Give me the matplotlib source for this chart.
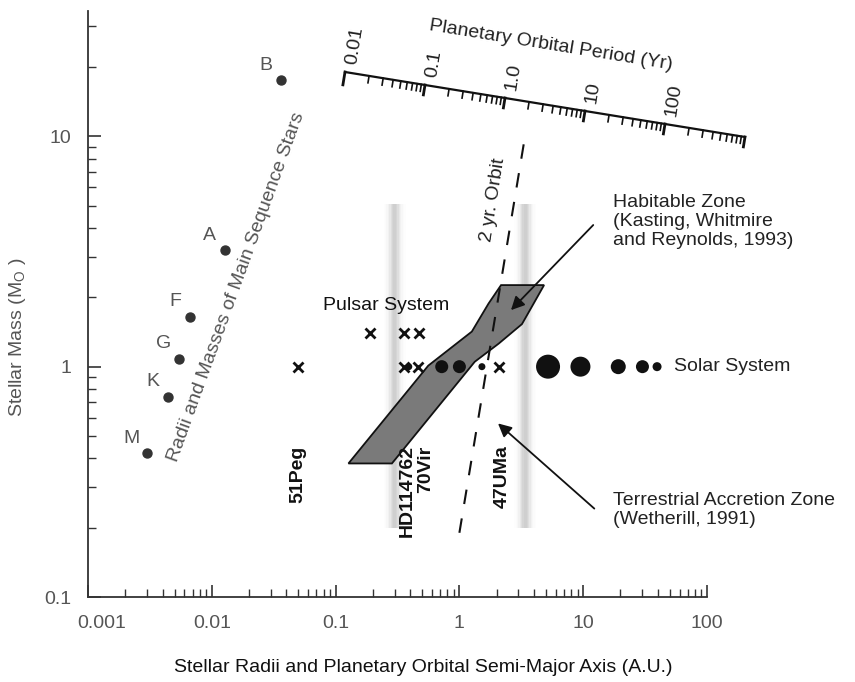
import numpy as np
import matplotlib.pyplot as plt
from matplotlib.lines import Line2D
from matplotlib.patches import Polygon
from matplotlib.transforms import Affine2D, ScaledTranslation
from matplotlib.ticker import NullFormatter

plt.rcParams['font.family'] = ['Liberation Sans', 'DejaVu Sans']

# --- data ---
# main sequence stars: radius (AU) vs mass (solar masses)
star_types = ['B', 'A', 'F', 'G', 'K', 'M']
star_radius_au = [0.036, 0.0128, 0.0067, 0.0054, 0.0044, 0.0030]
star_mass = [17.5, 3.2, 1.65, 1.08, 0.74, 0.42]

# solar system planets, all at 1 solar mass
planet_names = ['Mercury', 'Venus', 'Earth', 'Mars', 'Jupiter', 'Saturn',
                'Uranus', 'Neptune', 'Pluto']
planet_au = [0.39, 0.72, 1.0, 1.52, 5.2, 9.5, 19.2, 30.1, 39.5]
planet_mass = [1, 1, 1, 1, 1, 1, 1, 1, 1]

# extrasolar planets
exo_names = ['51Peg', 'HD114762', '70Vir', '47UMa']
exo_au = [0.05, 0.36, 0.46, 2.1]
exo_mass = [1.0, 1.0, 1.0, 1.0]

# pulsar system
pulsar_au = [0.19, 0.36, 0.47]
pulsar_mass = [1.4, 1.4, 1.4]

# habitable zone outline (AU, solar masses)
hz_au = [0.127, 0.285, 1.33, 2.08, 3.2, 3.98, 4.83, 2.17, 1.72, 1.26, 0.56]
hz_mass = [0.38, 0.38, 1.05, 1.26, 1.53, 1.88, 2.26, 2.26, 1.88, 1.42, 1.01]

# 2 yr orbit line end points
orbit2_au = [1.0, 3.45]
orbit2_mass = [0.19, 10.6]

# terrestrial accretion zone edges
band_au = [0.3, 3.4]
band_mass = [0.2, 5.1]

# planetary orbital period scale (yr)
period_major = [0.01, 0.1, 1, 10, 100]
period_labels = ['0.01', '0.1', '1.0', '10', '100']
period_end = 1000

# --- figure ---
W, H = 855, 682
fig = plt.figure(figsize=(W / 100, H / 100), dpi=100)
ax = fig.add_axes([88 / W, (H - 597) / H, (707 - 88) / W, (597 - 11) / H])
ax.set_xscale('log')
ax.set_yscale('log')
ax.set_xlim(0.001, 100)
ax.set_ylim(0.1, 35)

for s in ['top', 'right']:
    ax.spines[s].set_visible(False)
for s in ['left', 'bottom']:
    ax.spines[s].set_color('#333333')
    ax.spines[s].set_linewidth(1.3)

ax.set_xticks([0.001, 0.01, 0.1, 1, 10, 100], ['0.001', '0.01', '0.1', '1', '10', '100'])
ax.set_yticks([0.1, 1, 10], ['0.1', '1', '10'])
ax.xaxis.set_minor_formatter(NullFormatter())
ax.yaxis.set_minor_formatter(NullFormatter())
ax.tick_params(which='both', direction='in', color='#333333', labelsize=14,
               labelcolor='#555555')
ax.tick_params(axis='x', pad=13)
ax.tick_params(axis='y', pad=12)
ax.tick_params(which='major', length=9, width=1.2)
ax.tick_params(which='minor', length=6, width=1.0)
# the first x label sits a little to the right of its tick
lab0 = ax.get_xticklabels()[0]
lab0.set_transform(lab0.get_transform() + ScaledTranslation(0.14, 0, fig.dpi_scale_trans))

# accretion zone bands (blurred grey)
for c in band_au:
    for k in range(-8, 8):
        a = 0.42 * np.exp(-((k + 0.5) / 4.0) ** 2)
        ax.fill_betweenx(band_mass, c * 10 ** (k * 0.011), c * 10 ** ((k + 1) * 0.011),
                         color='#8c8c8c', alpha=a, lw=0, zorder=1)

# habitable zone
ax.add_patch(Polygon(np.column_stack([hz_au, hz_mass]), closed=True,
                     facecolor='#7a7a7a', edgecolor='#111111', lw=1.3, zorder=3))

# 2 yr orbit
ax.plot(orbit2_au, orbit2_mass, color='#111111', lw=1.5, dashes=(7, 7), zorder=5)
ax.text(1.87, 5.3, '2 yr. Orbit', rotation=81, ha='center', va='center',
        fontsize=14, color='#222222')

# main sequence stars
ax.scatter(star_radius_au, star_mass, s=42, color='#333333', zorder=4)
for t, r, m in zip(star_types, star_radius_au, star_mass):
    ax.annotate(t, (r, m), xytext=(-11, 11), textcoords='offset points',
                ha='center', va='center', fontsize=14, color='#555555')
ax.text(0.0158, 2.21, 'Radii and Masses of Main Sequence Stars', rotation=70,
        ha='center', va='center', fontsize=14, color='#555555')

# solar system
planet_dot_px = [7, 13, 13, 7, 24, 20, 15, 13, 9]
ax.scatter(planet_au, planet_mass, s=[(d * 0.72) ** 2 for d in planet_dot_px],
           color='#111111', zorder=4, lw=0)
ax.text(54.6, 1.0, 'Solar System', ha='left', va='center', fontsize=14, color='#222222')

# exoplanets and pulsar planets
ax.plot(exo_au, exo_mass, 'x', ms=7, mew=2, color='#111111', zorder=4)
ax.plot(pulsar_au, pulsar_mass, 'x', ms=7, mew=2, color='#111111', zorder=4)
ax.text(0.254, 1.84, 'Pulsar System', ha='center', va='center', fontsize=14, color='#111111')
label_dx = [0, 2, 6, 2]
for name, a, dx in zip(exo_names, exo_au, label_dx):
    ax.annotate(name, (a, 0.455), xytext=(dx, 0), textcoords='offset points',
                rotation=90, ha='center', va='top', fontsize=14, fontweight='bold',
                color='#111111')

# annotations with arrows
arrow = dict(arrowstyle='-|>', color='#111111', lw=1.3, mutation_scale=20,
             shrinkA=0, shrinkB=0)
ax.text(17.5, 4.27, 'Habitable Zone\n(Kasting, Whitmire\nand Reynolds, 1993)',
        ha='left', va='center', fontsize=14, color='#222222', linespacing=1.15)
ax.annotate('', xy=(2.61, 1.76), xytext=(12.05, 4.12), arrowprops=arrow)
ax.text(17.5, 0.239, 'Terrestrial Accretion Zone\n(Wetherill, 1991)',
        ha='left', va='center', fontsize=14, color='#222222', linespacing=1.15)
ax.annotate('', xy=(2.05, 0.567), xytext=(12.3, 0.242), arrowprops=arrow)

# --- tilted planetary orbital period scale (drawn in image pixels) ---
px = Affine2D().scale(0.01, -0.01).translate(0, H / 100) + fig.dpi_scale_trans
S = np.array([345.0, 72.0])
E = np.array([745.0, 137.0])
u = (E - S) / np.hypot(*(E - S))
n = np.array([-u[1], u[0]])  # points down in image
ang = np.degrees(np.arctan2(-(E - S)[1], (E - S)[0]))


def ppos(p):
    return S + (E - S) * (np.log10(p) + 2) / (np.log10(period_end) + 2)


fig.add_artist(Line2D([S[0], E[0]], [S[1], E[1]], color='#111111', lw=1.6, transform=px))
ticks = [m * 10.0 ** d for d in range(-2, 3) for m in range(1, 10)] + [period_end]
for p in ticks:
    q = ppos(p)
    major = np.isclose(np.log10(p), round(np.log10(p)))
    L = 13 if p == 0.01 else (10 if major else 7)
    r = q + n * L
    fig.add_artist(Line2D([q[0], r[0]], [q[1], r[1]], color='#111111',
                          lw=2.0 if major else 1.2, transform=px))
for p, lab in zip(period_major, period_labels):
    q = ppos(p) - n * 9 + u * 5
    fig.text(q[0], q[1], lab, transform=px, rotation=90 + ang, rotation_mode='anchor',
             ha='left', va='center', fontsize=14, color='#222222')
fig.text(551, 45, 'Planetary Orbital Period (Yr)', transform=px, rotation=ang,
         ha='center', va='center', fontsize=14, color='#222222')

# axis titles
fig.text(423 / W, 1 - 668 / H, 'Stellar Radii and Planetary Orbital Semi-Major Axis (A.U.)',
         ha='center', va='center', fontsize=14, color='#111111')
fig.text(17 / W, 1 - 337 / H, r'Stellar Mass (M$_\mathregular{O}$ )', rotation=90,
         ha='center', va='center', fontsize=14, color='#555555')

fig.savefig('out.png', dpi=100)
